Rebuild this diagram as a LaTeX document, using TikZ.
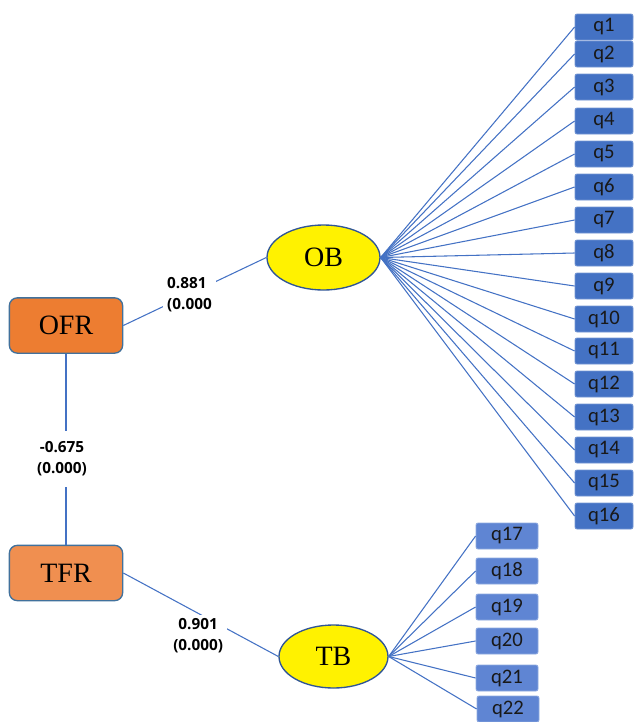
\documentclass[tikz,border=0pt]{standalone}
\usepackage{fontspec}
\setmainfont{Liberation Serif}
\newfontfamily\valuefont{Open Sans}
\newfontfamily\itemfont{Carlito}
\usetikzlibrary{shapes.geometric}
\definecolor{ofrorange}{HTML}{ED7D31}
\definecolor{tfrorange}{HTML}{F08F50}
\definecolor{frameblue}{HTML}{41719C}
\definecolor{ellblue}{HTML}{2F5597}
\definecolor{qblue}{HTML}{4472C4}
\definecolor{qlight}{HTML}{5F85D3}
\definecolor{linkblue}{HTML}{4472C4}
\begin{document}
\begin{tikzpicture}
            [x=0.75pt, y=-0.75pt,
             factor/.style = {draw=frameblue, line width=1pt, rounded corners=6pt, inner sep=0pt,
                              minimum width=85pt, minimum height=41.5pt, font=\fontsize{21}{24}\selectfont},
             latent/.style = {ellipse, draw=ellblue, fill=yellow, line width=1pt, inner sep=0pt,
                              font=\fontsize{21}{24}\selectfont},
             item/.style = {draw=qblue!75!white, line width=0.6pt, fill=qblue, rounded corners=1.5pt,
                            inner sep=0pt, minimum width=43.5pt, minimum height=19.5pt,
                            text=black!90, font=\itemfont\fontsize{15.5}{17}\selectfont},
             itemb/.style = {item, fill=qlight, draw=qlight!70!white, minimum width=46.5pt},
             value/.style = {fill=white, inner sep=3pt, font=\valuefont\bfseries\fontsize{11.5}{15.75}\selectfont},
             link/.style = {draw=linkblue, line width=0.8pt}]
            \useasboundingbox (0,0) rectangle (633,722);
            % factors
            \node[factor, fill=ofrorange] (OFR) at (66,325.5) {OFR};
            \node[factor, fill=tfrorange] (TFR) at (66,573) {TFR};
            \node[latent, minimum width=84.75pt, minimum height=48.75pt] (OB) at (323.5,257.5) {OB};
            \node[latent, minimum width=81.75pt, minimum height=47.25pt] (TB) at (333.5,656.5) {TB};
            % items of OB
            \node[item] (q1) at (604,27) {q1};
            \node[item] (q2) at (604,54) {q2};
            \node[item] (q3) at (604,87) {q3};
            \node[item] (q4) at (604,121) {q4};
            \node[item] (q5) at (604,154) {q5};
            \node[item] (q6) at (604,187) {q6};
            \node[item] (q7) at (604,220) {q7};
            \node[item] (q8) at (604,253) {q8};
            \node[item] (q9) at (604,286) {q9};
            \node[item] (q10) at (604,319) {q10};
            \node[item] (q11) at (604,351) {q11};
            \node[item] (q12) at (604,384) {q12};
            \node[item] (q13) at (604,417) {q13};
            \node[item] (q14) at (604,450) {q14};
            \node[item] (q15) at (604,483) {q15};
            \node[item] (q16) at (604,516) {q16};
            % items of TB
            \node[itemb] (q17) at (507,536) {q17};
            \node[itemb] (q18) at (507,571) {q18};
            \node[itemb] (q19) at (507,607) {q19};
            \node[itemb] (q20) at (507,641) {q20};
            \node[itemb] (q21) at (507,678) {q21};
            \node[itemb] (q22) at (508,709) {q22};
            % paths
            \draw[link] (OFR.east) -- node[value, align=left, xshift=-4pt, yshift=-2pt] {0.881\\(0.000} (OB.west);
            \draw[link] (OFR) -- node[value, align=center, xshift=-3pt, yshift=-7pt, inner ysep=8pt] {-0.675\\(0.000)} (TFR);
            \draw[link] (TFR.east) -- node[value, align=center, xshift=-2pt, yshift=-16pt] {0.901\\(0.000)} (TB.west);
            \draw[link] (OB.east) -- (q1.west);
            \draw[link] (OB.east) -- (q2.west);
            \draw[link] (OB.east) -- (q3.west);
            \draw[link] (OB.east) -- (q4.west);
            \draw[link] (OB.east) -- (q5.west);
            \draw[link] (OB.east) -- (q6.west);
            \draw[link] (OB.east) -- (q7.west);
            \draw[link] (OB.east) -- (q8.west);
            \draw[link] (OB.east) -- (q9.west);
            \draw[link] (OB.east) -- (q10.west);
            \draw[link] (OB.east) -- (q11.west);
            \draw[link] (OB.east) -- (q12.west);
            \draw[link] (OB.east) -- (q13.west);
            \draw[link] (OB.east) -- (q14.west);
            \draw[link] (OB.east) -- (q15.west);
            \draw[link] (OB.east) -- (q16.west);
            \draw[link] (TB.east) -- (q17.west);
            \draw[link] (TB.east) -- (q18.west);
            \draw[link] (TB.east) -- (q19.west);
            \draw[link] (TB.east) -- (q20.west);
            \draw[link] (TB.east) -- (q21.west);
            \draw[link] (TB.east) -- (q22.west);
        \end{tikzpicture}
\end{document}
